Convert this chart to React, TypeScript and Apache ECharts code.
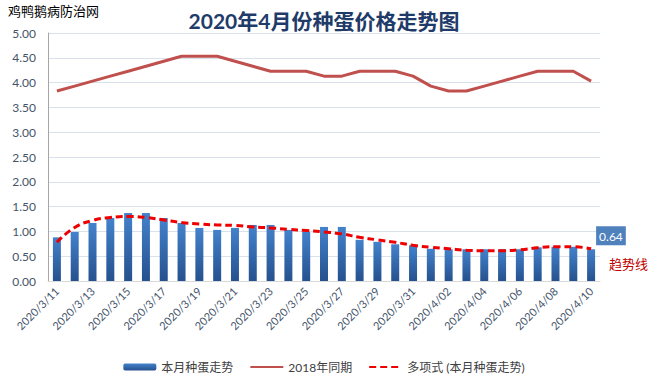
import React, { useEffect, useRef } from "react";
import * as echarts from "echarts";

const categories = [
  "2020/3/11", "2020/3/12", "2020/3/13", "2020/3/14", "2020/3/15", "2020/3/16",
  "2020/3/17", "2020/3/18", "2020/3/19", "2020/3/20", "2020/3/21", "2020/3/22",
  "2020/3/23", "2020/3/24", "2020/3/25", "2020/3/26", "2020/3/27", "2020/3/28",
  "2020/3/29", "2020/3/30", "2020/3/31", "2020/4/01", "2020/4/02", "2020/4/03",
  "2020/4/04", "2020/4/05", "2020/4/06", "2020/4/07", "2020/4/08", "2020/4/09",
  "2020/4/10",
];

const thisMonth = [
  0.88, 0.99, 1.17, 1.27, 1.37, 1.37, 1.27, 1.17, 1.07, 1.03, 1.07, 1.13,
  1.13, 1.03, 0.99, 1.09, 1.09, 0.83, 0.79, 0.74, 0.72, 0.65, 0.64, 0.64,
  0.64, 0.64, 0.64, 0.68, 0.69, 0.69, 0.64,
];

const sameTime2018 = [
  3.83, 3.93, 4.03, 4.13, 4.23, 4.33, 4.43, 4.53, 4.53, 4.53, 4.43, 4.33,
  4.23, 4.23, 4.23, 4.13, 4.13, 4.23, 4.23, 4.23, 4.13, 3.93, 3.83, 3.83,
  3.93, 4.03, 4.13, 4.23, 4.23, 4.23, 4.03,
];

const trend = [
  0.78, 1.08, 1.22, 1.28, 1.3, 1.28, 1.23, 1.18, 1.15, 1.13, 1.12, 1.09,
  1.07, 1.04, 1.02, 0.99, 0.95, 0.88, 0.83, 0.78, 0.72, 0.68, 0.65, 0.62,
  0.61, 0.61, 0.63, 0.67, 0.69, 0.69, 0.65,
];

const seriesNames = ["本月种蛋走势", "2018年同期", "多项式 (本月种蛋走势)"];
const yTicks = { min: 0, max: 5, interval: 0.5 };

const FONT = "Lato, 'Noto Sans CJK SC', sans-serif";

export default function App() {
  const ref = useRef<HTMLDivElement>(null);
  useEffect(() => {
    document.body.style.margin = "0";
    const chart = echarts.init(ref.current!, null, { renderer: "svg" });
    const lastIdx = thisMonth.length - 1;
    const barData = thisMonth.map((v, i) =>
      i === lastIdx
        ? {
            value: v,
            label: {
              show: true,
              position: [9, -23],
              formatter: (p: any) => Number(p.value).toFixed(2),
              color: "#ffffff",
              backgroundColor: "#4f81bd",
              padding: [4, 3, 3, 3],
              fontSize: 12,
              fontFamily: FONT,
            },
          }
        : v
    );
    chart.setOption({
      animation: false,
      textStyle: { fontFamily: FONT },
      title: {
        text: "2020年4月份种蛋价格走势图",
        left: "center",
        top: 5,
        textStyle: {
          fontSize: 21,
          fontWeight: "bold",
          color: "#1f3b6a",
          fontFamily: FONT,
        },
      },
      graphic: [
        {
          type: "text",
          left: 8,
          top: 4,
          style: {
            text: "鸡鸭鹅病防治网",
            font: "13px 'Noto Sans CJK SC', sans-serif",
            fill: "#000000",
          },
        },
        {
          type: "text",
          left: 609,
          top: 257,
          style: {
            text: "趋势线",
            font: "13px 'Noto Sans CJK SC', sans-serif",
            fill: "#c00000",
          },
        },
      ],
      legend: {
        top: 356,
        left: "center",
        itemWidth: 33,
        itemHeight: 7,
        itemGap: 16,
        textStyle: { fontSize: 12, color: "#404040", fontFamily: FONT },
        data: [
          { name: seriesNames[0] },
          { name: seriesNames[1], itemStyle: { opacity: 0 } },
          { name: seriesNames[2], itemStyle: { opacity: 0 } },
        ],
      },
      grid: { left: 48, right: 48, top: 33, bottom: 98, containLabel: false },
      xAxis: {
        type: "category",
        data: categories,
        boundaryGap: true,
        axisLine: { lineStyle: { color: "#d9d9d9" } },
        axisTick: { show: false },
        axisLabel: {
          interval: 1,
          rotate: 45,
          color: "#44546a",
          fontSize: 11,
          margin: 8,
          fontFamily: FONT,
        },
      },
      yAxis: {
        type: "value",
        min: yTicks.min,
        max: yTicks.max,
        interval: yTicks.interval,
        axisLine: { show: true, lineStyle: { color: "#a6a6a6" } },
        axisTick: { show: false },
        axisLabel: {
          color: "#44546a",
          fontSize: 12,
          margin: 12,
          formatter: (v: number) => v.toFixed(2),
          fontFamily: FONT,
        },
        splitLine: { lineStyle: { color: "#d9e1ea" } },
      },
      series: [
        {
          name: seriesNames[0],
          type: "bar",
          data: barData,
          barWidth: 8,
          itemStyle: {
            color: new echarts.graphic.LinearGradient(0, 0, 0, 1, [
              { offset: 0, color: "#4382cc" },
              { offset: 1, color: "#26518e" },
            ]),
          },
          z: 2,
        },
        {
          name: seriesNames[1],
          type: "line",
          data: sameTime2018,
          symbol: "none",
          lineStyle: { color: "#c0504d", width: 3 },
          itemStyle: { color: "#c0504d" },
          z: 3,
        },
        {
          name: seriesNames[2],
          type: "line",
          data: trend,
          smooth: true,
          symbol: "none",
          lineStyle: { color: "#ee0000", width: 3, type: [7, 4] },
          itemStyle: { color: "#ee0000" },
          z: 4,
        },
      ],
    });
    return () => chart.dispose();
  }, []);
  return <div ref={ref} style={{ width: 648, height: 379 }} />;
}
